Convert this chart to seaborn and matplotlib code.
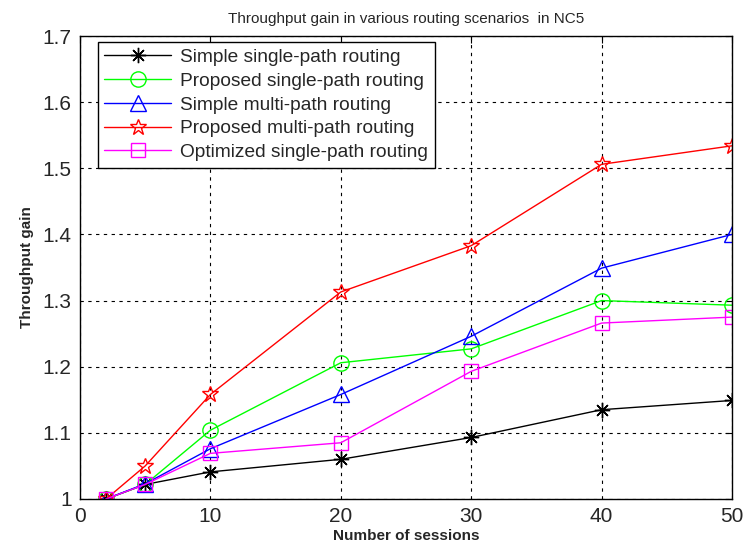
import matplotlib
matplotlib.use("Agg")
import matplotlib.pyplot as plt
import seaborn as sns
import pandas as pd

sessions = [2, 5, 10, 20, 30, 40, 50]
simple_single = [1.0, 1.022, 1.041, 1.060, 1.093, 1.135, 1.149]
proposed_single = [1.0, 1.022, 1.104, 1.206, 1.227, 1.300, 1.293]
simple_multi = [1.0, 1.023, 1.076, 1.158, 1.246, 1.349, 1.400]
proposed_multi = [1.0, 1.050, 1.158, 1.313, 1.383, 1.506, 1.534]
optimized_single = [1.0, 1.022, 1.069, 1.085, 1.193, 1.266, 1.275]

labels = ["Simple single-path routing", "Proposed single-path routing",
          "Simple multi-path routing", "Proposed multi-path routing",
          "Optimized single-path routing"]
series = [simple_single, proposed_single, simple_multi, proposed_multi, optimized_single]
colors = ["#000000", "#00ff00", "#0000ff", "#ff0000", "#ff00ff"]
markers = [(8, 2, 0), "o", "^", "*", "s"]
msizes = [11, 11, 12, 12, 10]

sns.set_style("white")
plt.rcParams['font.family'] = ['Liberation Sans', 'DejaVu Sans']

fig = plt.figure(figsize=(7.44, 5.48), dpi=100)
ax = fig.add_axes([80/744, 1-499/548, 652/744, 463/548])

for lab, vals, c, m, ms in zip(labels, series, colors, markers, msizes):
    df = pd.DataFrame({"x": sessions, "y": vals})
    sns.lineplot(data=df, x="x", y="y", ax=ax, color=c, marker=m, markersize=ms,
                 markerfacecolor="none", markeredgecolor=c, markeredgewidth=1.0,
                 linewidth=1.0, label=lab)

ax.set_xlim(0, 50)
ax.set_ylim(1, 1.7)
ax.set_xticks([0, 10, 20, 30, 40, 50])
ax.set_yticks([1, 1.1, 1.2, 1.3, 1.4, 1.5, 1.6, 1.7])
ax.set_yticklabels(["1", "1.1", "1.2", "1.3", "1.4", "1.5", "1.6", "1.7"])
ax.grid(True, color="black", linestyle=(0, (3, 4)), linewidth=0.8)
ax.tick_params(direction="in", top=True, right=True, length=5, labelsize=15,
               color="black", width=0.8, pad=6)
for s in ax.spines.values():
    s.set_color("black")
    s.set_linewidth(1.0)

ax.set_xlabel("Number of sessions", fontsize=11, fontweight="bold", labelpad=2)
ax.set_ylabel("Throughput gain", fontsize=11, fontweight="bold", labelpad=6)
ax.set_title("Throughput gain in various routing scenarios  in NC5", fontsize=11, pad=9)

leg = ax.legend(loc="upper left", bbox_to_anchor=(0.027, 0.987), fontsize=13.8,
                frameon=True, fancybox=False, edgecolor="black", framealpha=1,
                handlelength=3.5, borderpad=0.35, labelspacing=0.33, handletextpad=0.45,
                borderaxespad=0)
leg.get_frame().set_linewidth(1.0)

fig.savefig("out.png", dpi=100)
